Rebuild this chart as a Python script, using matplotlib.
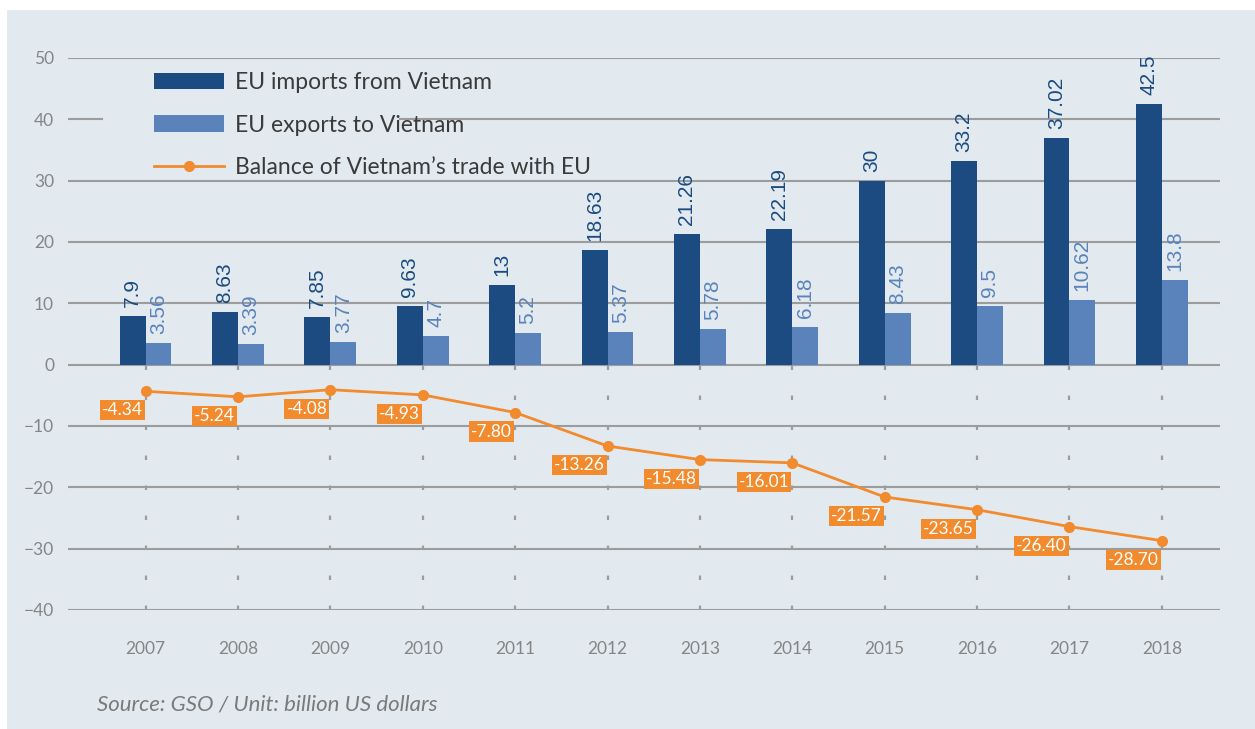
import matplotlib
matplotlib.use("Agg")
import matplotlib.pyplot as plt
from matplotlib.patches import Rectangle
import numpy as np

# data (billion US dollars)
years = ["2007", "2008", "2009", "2010", "2011", "2012", "2013", "2014", "2015", "2016", "2017", "2018"]
imports = [7.9, 8.63, 7.85, 9.63, 13, 18.63, 21.26, 22.19, 30, 33.2, 37.02, 42.5]
exports = [3.56, 3.39, 3.77, 4.7, 5.2, 5.37, 5.78, 6.18, 8.43, 9.5, 10.62, 13.8]
balance = [-4.34, -5.24, -4.08, -4.93, -7.80, -13.26, -15.48, -16.01, -21.57, -23.65, -26.40, -28.70]
yticks = [-40, -30, -20, -10, 0, 10, 20, 30, 40, 50]

BG = "#e2eaf0"
DARK = "#1b4b80"
LIGHT = "#5a82bb"
ORANGE = "#f28a2e"
GRID = "#9c9c9c"

plt.rcParams['font.family'] = ['Lato', 'DejaVu Sans']

fig = plt.figure(figsize=(12.55, 7.29), dpi=100, facecolor="white")
fig.patches.append(Rectangle((7 / 1255, 0), 1, 1 - 10 / 729, transform=fig.transFigure,
                             facecolor=BG, edgecolor="none", zorder=-10))

ax = fig.add_axes([68 / 1255, 1 - 610 / 729, (1220 - 68) / 1255, (610 - 58) / 729])
ax.set_facecolor("none")

x = np.arange(len(years))
width = 0.28

# gridlines (the one at 40 is broken behind the legend)
for v in yticks:
    if v == 40:
        ax.axhline(v, xmin=0, xmax=(102 - 68) / 1152, color=GRID, lw=1.5, zorder=0)
        ax.axhline(v, xmin=(400 - 68) / 1152, xmax=1, color=GRID, lw=1.5, zorder=0)
    else:
        ax.axhline(v, color=GRID, lw=1.5, zorder=0)

# dotted verticals below zero
ax.vlines(x, -40, 0, colors=GRID, linestyles=(0, (2, 11.5)), lw=1.6, zorder=0)

h1 = ax.bar(x - width / 2, imports, width, color=DARK, label="EU imports from Vietnam", zorder=2)
h2 = ax.bar(x + width / 2, exports, width, color=LIGHT, label="EU exports to Vietnam", zorder=2)
h3, = ax.plot(x, balance, color=ORANGE, lw=2, marker="o", markersize=7,
              label="Balance of Vietnam\u2019s trade with EU", zorder=3)

for i in range(len(years)):
    ax.annotate(f"{imports[i]:g}", (x[i] - width / 2, imports[i]), xytext=(0, 9),
                textcoords="offset pixels", rotation=90, ha="center", va="bottom",
                fontsize=15, color=DARK, family="Liberation Sans")
    ax.annotate(f"{exports[i]:g}", (x[i] + width / 2, exports[i]), xytext=(0, 9),
                textcoords="offset pixels", rotation=90, ha="center", va="bottom",
                fontsize=15, color=LIGHT, family="Liberation Sans")
    ax.annotate(f"{balance[i]:.2f}", (x[i], balance[i]), xytext=(-3, -11),
                textcoords="offset pixels", ha="right", va="top", fontsize=12.5,
                color="white", zorder=4,
                bbox=dict(boxstyle="square,pad=0.12", facecolor=ORANGE, edgecolor="none"))

ax.set_xlim(-0.84, 11.63)
ax.set_ylim(-40, 50)
ax.set_yticks(yticks)
ax.set_xticks(x)
ax.set_xticklabels(years)
ax.tick_params(axis="both", length=0, labelsize=12.5, labelcolor="#858585")
ax.tick_params(axis="y", pad=10)
ax.tick_params(axis="x", pad=22)
for s in ax.spines.values():
    s.set_visible(False)

leg = ax.legend(handles=[h1, h2, h3], loc="upper left", bbox_to_anchor=((140 - 68) / 1152, 1.0),
                frameon=False, fontsize=16.5, handlelength=3.05, handleheight=0.7,
                labelspacing=0.95, handletextpad=0.48, borderaxespad=0.2)
for t in leg.get_texts():
    t.set_color("#3a3a3a")

fig.text(97 / 1255, 1 - 704 / 729, "Source: GSO / Unit: billion US dollars", style="italic",
         fontsize=16, color="#7a7a7a", va="center")

fig.savefig("out.png", dpi=100, facecolor="white")
